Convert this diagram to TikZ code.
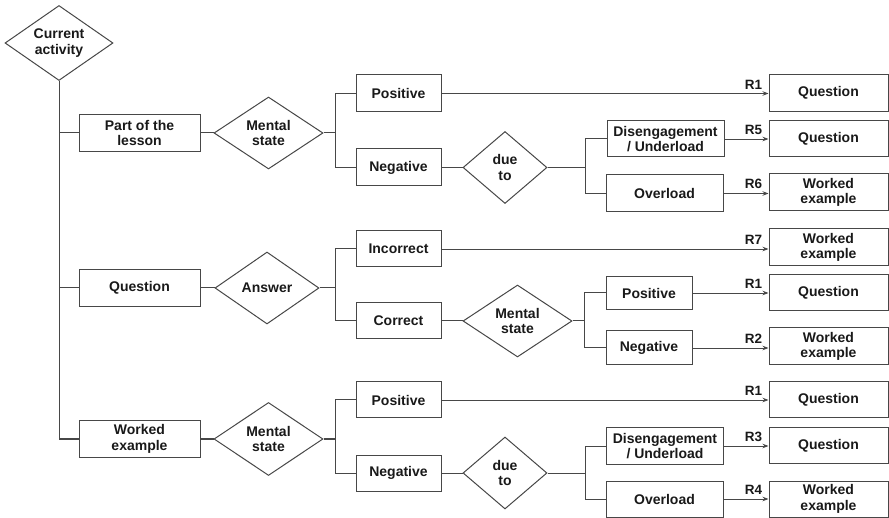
\documentclass[tikz,border=0pt]{standalone}
\usepackage{fontspec}
\setmainfont{Liberation Sans}
\usetikzlibrary{shapes.geometric,arrows.meta}
\begin{document}
\begin{tikzpicture}[x=1pt,y=-1pt,
  line width=1pt, draw=black!72,
  every node/.style={font=\fontsize{14}{15.5}\selectfont\bfseries, text=black!90, align=center},
  box/.style={draw=black!72, rectangle, inner sep=0pt, minimum height=37pt},
  midbox/.style={box, minimum width=85pt},
  leftbox/.style={box, minimum width=121pt},
  dbox/.style={box, minimum width=117pt, minimum height=36pt},
  rbox/.style={box, minimum width=119pt},
  dia/.style={draw=black!72, diamond, inner sep=0pt, aspect=1.5},
  arr/.style={line width=0.9pt, -{Stealth[length=6pt,width=4.5pt]}},
  rl/.style={anchor=south east, inner sep=0pt, font=\fontsize{13.5}{15}\selectfont\bfseries}
]
\useasboundingbox (0,0) rectangle (889,518);
% Root
\node[dia, minimum width=108pt, minimum height=75pt] (ca) at (59,43) {Current\\activity};
\node[leftbox] (pl) at (139.5,133) {Part of the\\lesson};
\node[leftbox] (qa) at (139.5,288) {Question};
\node[leftbox] (we) at (139.5,439) {Worked\\example};
\draw (ca.south) |- (we.west);
\draw (ca.south |- pl.west) -- (pl.west);
\draw (ca.south |- qa.west) -- (qa.west);

% Group 1
\node[dia, minimum width=109pt, minimum height=72pt] (ms1) at (268.5,133) {Mental\\state};
\node[midbox] (pos1) at (398.5,93.5) {Positive};
\node[midbox] (neg1) at (398.5,167.5) {Negative};
\node[dia, minimum width=84pt, minimum height=72pt] (due1) at (505,167.5) {due\\to};
\node[dbox] (dis1) at (665.5,139) {Disengagement\\/ Underload};
\node[dbox, minimum height=37pt] (ov1) at (664.5,193.5) {Overload};
\node[rbox] (q1) at (828.5,93) {Question};
\node[rbox, minimum height=36pt] (q5) at (828.5,139) {Question};
\node[rbox] (w6) at (828.5,192.5) {Worked\\example};
\coordinate (b1) at (335,133);
\coordinate (c1) at (585,167.5);
\draw (pl.east) -- (ms1.west);
\draw (ms1.east) -- (b1);
\draw (b1) |- (pos1.west);
\draw (b1) |- (neg1.west);
\draw (neg1.east) -- (due1.west);
\draw (due1.east) -- (c1);
\draw (c1) |- (dis1.west);
\draw (c1) |- (ov1.west);
\draw[arr] (pos1.east) -- (pos1.east -| q1.west) node[rl, xshift=-6pt, yshift=4pt] {R1};
\draw[arr] (dis1.east) -- (dis1.east -| q5.west) node[rl, xshift=-6pt, yshift=4pt] {R5};
\draw[arr] (ov1.east) -- (ov1.east -| w6.west) node[rl, xshift=-6pt, yshift=4pt] {R6};

% Group 2
\node[dia, minimum width=104pt, minimum height=72pt] (ans) at (267,288) {Answer};
\node[midbox, minimum height=36pt] (inc) at (398.5,249) {Incorrect};
\node[midbox, minimum height=36pt] (cor) at (398.5,321) {Correct};
\node[dia, minimum width=109pt, minimum height=72pt] (ms2) at (517.5,321) {Mental\\state};
\node[box, minimum width=86pt, minimum height=33pt] (pos2) at (649,293) {Positive};
\node[box, minimum width=86pt, minimum height=34pt] (neg2) at (649,348) {Negative};
\node[rbox] (w7) at (828.5,247.5) {Worked\\example};
\node[rbox, minimum height=36pt] (q1b) at (828.5,293) {Question};
\node[rbox] (w2) at (828.5,346.5) {Worked\\example};
\coordinate (b2) at (335,288);
\coordinate (c2) at (584,321);
\draw (qa.east) -- (ans.west);
\draw (ans.east) -- (b2);
\draw (b2) |- (inc.west);
\draw (b2) |- (cor.west);
\draw (cor.east) -- (ms2.west);
\draw (ms2.east) -- (c2);
\draw (c2) |- (pos2.west);
\draw (c2) |- (neg2.west);
\draw[arr] (inc.east) -- (inc.east -| w7.west) node[rl, xshift=-6pt, yshift=4pt] {R7};
\draw[arr] (pos2.east) -- (pos2.east -| q1b.west) node[rl, xshift=-6pt, yshift=4pt] {R1};
\draw[arr] (neg2.east) -- (neg2.east -| w2.west) node[rl, xshift=-6pt, yshift=4pt] {R2};

% Group 3
\node[dia, minimum width=109pt, minimum height=73pt] (ms3) at (268.5,439) {Mental\\state};
\node[midbox, minimum height=36pt] (pos3) at (398.5,400) {Positive};
\node[midbox, minimum height=36pt] (neg3) at (398.5,473) {Negative};
\node[dia, minimum width=84pt, minimum height=72pt] (due3) at (505,473) {due\\to};
\node[dbox] (dis3) at (665,446) {Disengagement\\/ Underload};
\node[dbox] (ov3) at (664.5,499) {Overload};
\node[rbox, minimum height=36pt] (q1c) at (828.5,400) {Question};
\node[rbox, minimum height=35pt] (q3) at (828.5,445.5) {Question};
\node[rbox, minimum height=36pt] (w4) at (828.5,499) {Worked\\example};
\coordinate (b3) at (335,439);
\coordinate (c3) at (585,473);
\draw (we.east) -- (ms3.west);
\draw (ms3.east) -- (b3);
\draw (b3) |- (pos3.west);
\draw (b3) |- (neg3.west);
\draw (neg3.east) -- (due3.west);
\draw (due3.east) -- (c3);
\draw (c3) |- (dis3.west);
\draw (c3) |- (ov3.west);
\draw[arr] (pos3.east) -- (pos3.east -| q1c.west) node[rl, xshift=-6pt, yshift=4pt] {R1};
\draw[arr] (dis3.east) -- (dis3.east -| q3.west) node[rl, xshift=-6pt, yshift=4pt] {R3};
\draw[arr] (ov3.east) -- (ov3.east -| w4.west) node[rl, xshift=-6pt, yshift=4pt] {R4};
\end{tikzpicture}
\end{document}
